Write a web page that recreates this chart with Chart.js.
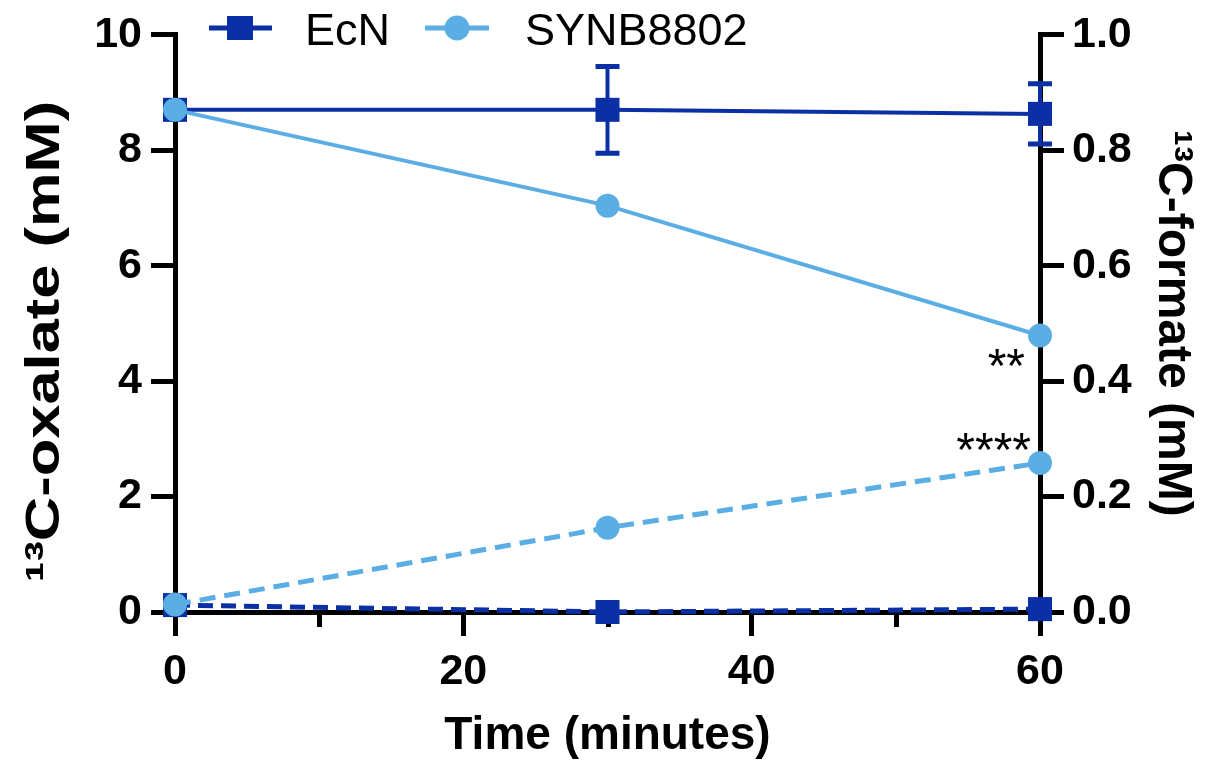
<!DOCTYPE html>
<html>
<head>
<meta charset="utf-8">
<script src="https://cdn.jsdelivr.net/npm/chart.js@4.4.1/dist/chart.umd.min.js"></script>
<style>
  html, body { margin: 0; padding: 0; background: #ffffff; }
  #wrap { width: 1219px; height: 766px; position: relative; }
</style>
</head>
<body>
<div id="wrap"><canvas id="chart"></canvas></div>
<script>
// ---------------- data ----------------
const timePoints = [0, 30, 60];                 // minutes
const ecnOxalate = [8.70, 8.70, 8.63];          // 13C-oxalate (mM), EcN
const ecnOxalateSD = [0, 0.75, 0.52];           // error bar half-length, EcN oxalate
const synbOxalate = [8.70, 7.04, 4.79];         // 13C-oxalate (mM), SYNB8802
const ecnFormate = [0.012, 0.000, 0.005];       // 13C-formate (mM), EcN
const synbFormate = [0.013, 0.146, 0.258];      // 13C-formate (mM), SYNB8802
const minorXTicks = [10, 30, 50];
const seriesNames = ['EcN', 'SYNB8802'];
const significance = [
  { text: '**', series: 'synbOxalate', index: 2 },
  { text: '****', series: 'synbFormate', index: 2 }
];

// ---------------- styles ----------------
const DARK = '#0B30A6';
const LIGHT = '#5BAEE3';
const FONT = '"Liberation Sans", Arial, Helvetica, sans-serif';

const pts = (ys) => timePoints.map((t, i) => ({ x: t, y: ys[i] }));

const datasets = [
  { key: 'synbOxalate', label: seriesNames[1], data: pts(synbOxalate), yAxisID: 'y',
    borderColor: LIGHT, backgroundColor: LIGHT, borderWidth: 4, pointStyle: 'circle',
    pointRadius: 12, pointBorderWidth: 0, pointBackgroundColor: LIGHT, order: 1, clip: false },
  { key: 'synbFormate', label: seriesNames[1], data: pts(synbFormate), yAxisID: 'y2',
    borderColor: LIGHT, backgroundColor: LIGHT, borderWidth: 5, borderDash: [16, 9], pointStyle: 'circle',
    pointRadius: 12, pointBorderWidth: 0, pointBackgroundColor: LIGHT, order: 2, clip: false },
  { key: 'ecnOxalate', label: seriesNames[0], data: pts(ecnOxalate), yAxisID: 'y',
    borderColor: DARK, backgroundColor: DARK, borderWidth: 4, pointStyle: 'rect',
    pointRadius: 17, pointBorderWidth: 0, pointBackgroundColor: DARK, order: 3, clip: false },
  { key: 'ecnFormate', label: seriesNames[0], data: pts(ecnFormate), yAxisID: 'y2',
    borderColor: DARK, backgroundColor: DARK, borderWidth: 5, borderDash: [15, 8], pointStyle: 'rect',
    pointRadius: 17, pointBorderWidth: 0, pointBackgroundColor: DARK, order: 4, clip: false }
];

const extras = {
  id: 'extras',
  beforeDatasetsDraw(chart) {
    const ctx = chart.ctx;
    const x = chart.scales.x, y = chart.scales.y;
    ctx.save();
    // minor x ticks
    ctx.strokeStyle = '#000';
    ctx.lineWidth = 5;
    minorXTicks.forEach(v => {
      const px = Math.round(x.getPixelForValue(v)) + 0.5;
      ctx.beginPath();
      ctx.moveTo(px, chart.chartArea.bottom);
      ctx.lineTo(px, chart.chartArea.bottom + 15);
      ctx.stroke();
    });
    // error bars (EcN oxalate)
    ctx.strokeStyle = DARK;
    timePoints.forEach((t, i) => {
      const sd = ecnOxalateSD[i];
      if (!sd) return;
      const px = x.getPixelForValue(t);
      const top = y.getPixelForValue(ecnOxalate[i] + sd);
      const bot = y.getPixelForValue(ecnOxalate[i] - sd);
      ctx.lineWidth = 4;
      ctx.beginPath(); ctx.moveTo(px, top); ctx.lineTo(px, bot); ctx.stroke();
      ctx.lineWidth = 5;
      ctx.beginPath();
      ctx.moveTo(px - 12, top); ctx.lineTo(px + 12, top);
      ctx.moveTo(px - 12, bot); ctx.lineTo(px + 12, bot);
      ctx.stroke();
    });
    ctx.restore();
  },
  afterDatasetsDraw(chart) {
    const ctx = chart.ctx;
    ctx.save();
    // significance marks
    ctx.fillStyle = '#000';
    ctx.font = '48px ' + FONT;
    ctx.textAlign = 'right';
    ctx.textBaseline = 'alphabetic';
    const offsets = { '**': [-15, 46], '****': [-9, 3] };
    significance.forEach(s => {
      const dsIndex = chart.data.datasets.findIndex(d => d.key === s.series);
      const el = chart.getDatasetMeta(dsIndex).data[s.index];
      const o = offsets[s.text];
      ctx.fillText(s.text, el.x + o[0], el.y + o[1]);
    });
    // legend
    const entries = [
      { name: seriesNames[0], color: DARK, style: 'rect', x1: 209, x2: 272, mx: 240, tx: 305 },
      { name: seriesNames[1], color: LIGHT, style: 'circle', x1: 425, x2: 489, mx: 457, tx: 525 }
    ];
    const ly = 28;
    entries.forEach(e => {
      ctx.strokeStyle = e.color;
      ctx.fillStyle = e.color;
      ctx.lineWidth = 5;
      ctx.beginPath(); ctx.moveTo(e.x1, ly); ctx.lineTo(e.x2, ly); ctx.stroke();
      if (e.style === 'rect') {
        ctx.fillRect(e.mx - 13, ly - 12, 26, 24);
      } else {
        ctx.beginPath(); ctx.arc(e.mx, ly, 12.5, 0, Math.PI * 2); ctx.fill();
      }
      ctx.fillStyle = '#000';
      ctx.font = '45px ' + FONT;
      ctx.textAlign = 'left';
      ctx.textBaseline = 'alphabetic';
      ctx.fillText(e.name, e.tx, 45);
    });
    ctx.restore();
  }
};

// stretch the left axis title along its length, as in the reference
function stretchLeftTitle(s) {
  if (s._stretchPatched) return;
  const orig = s.drawTitle;
  s.drawTitle = function () {
    const ctx = this.ctx;
    const cy = (this.top + this.bottom) / 2;
    ctx.save();
    ctx.translate(0, cy + 18);
    ctx.scale(1, 1.28);
    ctx.translate(0, -cy);
    orig.call(this);
    ctx.restore();
  };
  s._stretchPatched = true;
}

const axisCommon = {
  grid: { display: true, drawOnChartArea: false, drawTicks: true, tickLength: 24, tickWidth: 5, tickColor: '#000' },
  border: { display: true, width: 5, color: '#000' }
};

new Chart(document.getElementById('chart'), {
  type: 'line',
  data: { datasets },
  plugins: [extras],
  options: {
    responsive: true,
    maintainAspectRatio: false,
    devicePixelRatio: 1,
    animation: false,
    layout: { padding: { top: 34, left: 0, right: 0, bottom: 0 } },
    plugins: { legend: { display: false }, tooltip: { enabled: false } },
    scales: {
      x: {
        type: 'linear', min: 0, max: 60, offset: false,
        ...axisCommon,
        ticks: { stepSize: 20, padding: 10, color: '#000', font: { family: FONT, size: 43, weight: 'bold' }, maxRotation: 0 },
        title: { display: true, text: 'Time (minutes)', color: '#000', font: { family: FONT, size: 46, weight: 'bold', lineHeight: 1.2 }, padding: { top: 0, bottom: 2 } },
        afterFit(s) { s.height = 154; }
      },
      y: {
        type: 'linear', position: 'left', min: 0, max: 10,
        ...axisCommon,
        ticks: { stepSize: 2, padding: 9, color: '#000', font: { family: FONT, size: 43, weight: 'bold' } },
        title: { display: true, text: '¹³C-oxalate (mM)', color: '#000', font: { family: FONT, size: 48, weight: 'bold', lineHeight: 1.2 }, padding: { top: 17, bottom: 0 } },
        afterFit(s) { s.width = 175; stretchLeftTitle(s); }
      },
      y2: {
        type: 'linear', position: 'right', min: 0, max: 1,
        ...axisCommon,
        ticks: { stepSize: 0.2, padding: 8, color: '#000', font: { family: FONT, size: 43, weight: 'bold' },
                 callback: v => Number(v).toFixed(1) },
        title: { display: true, text: '¹³C-formate (mM)', color: '#000', font: { family: FONT, size: 48, weight: 'bold', lineHeight: 1.2 }, padding: { top: 18, bottom: 0 } },
        afterFit(s) { s.width = 179; }
      }
    }
  }
});
</script>
</body>
</html>
